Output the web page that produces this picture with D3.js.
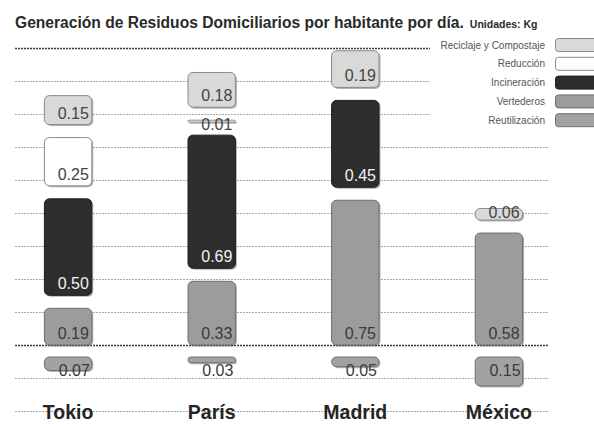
<!DOCTYPE html>
<html>
<head>
<meta charset="utf-8">
<script src="https://cdn.jsdelivr.net/npm/d3@7"></script>
<style>
  html, body { margin: 0; padding: 0; background: #fff; }
  svg { display: block; font-family: "Liberation Sans", Arial, sans-serif; }
</style>
</head>
<body>
<svg id="chart" width="594" height="424"></svg>
<script>
// ---- data ----
const categories = ["Tokio", "París", "Madrid", "México"];
const seriesNames = ["Reciclaje y Compostaje", "Reducción", "Incineración", "Vertederos", "Reutilización"];
const reciclaje     = [0.15, 0.18, 0.19, 0.06];
const reduccion     = [0.25, 0.01, 0.00, 0.00];
const incineracion  = [0.50, 0.69, 0.45, 0.00];
const vertederos    = [0.19, 0.33, 0.75, 0.58];
const reutilizacion = [0.07, 0.03, 0.05, 0.15];
const title = "Generación de Residuos Domiciliarios por habitante por día.";
const unitsLabel = "Unidades: Kg";

// ---- styles ----
const fills   = {"Reciclaje y Compostaje": "#d9d9d9", "Reducción": "#ffffff", "Incineración": "#2d2d2d", "Vertederos": "#9c9c9c", "Reutilización": "#a2a2a2"};
const strokes = {"Reciclaje y Compostaje": "#8a8a8a", "Reducción": "#8a8a8a", "Incineración": "#1e1e1e", "Vertederos": "#6e6e6e", "Reutilización": "#707070"};
const labelColors = {"Reciclaje y Compostaje": "#444", "Reducción": "#444", "Incineración": "#f2f2f2", "Vertederos": "#3a3a3a", "Reutilización": "#3a3a3a"};

const svg = d3.select("#chart");
const baseY = 345;
const gap = 13;
const pxPerKg = 193;

const x = d3.scaleBand().domain(categories).range([-3, 570]).paddingInner(0.67).paddingOuter(0.33);
// value -> pixel (positive values up, from baseline)
const y = d3.scaleLinear().domain([0, 1]).range([baseY, baseY - pxPerKg]);
const h = v => baseY - y(v);

// ---- gridlines ----
const gridRows = d3.range(12).map(i => 48 + i * 33.0);
const g = svg.append("g");
gridRows.forEach((gy, i) => {
  const dark = (i === 0 || i === 9);
  const x2 = i <= 2 ? 430 : 548;
  g.append("line")
    .attr("x1", 15).attr("x2", x2)
    .attr("y1", gy + 0.5).attr("y2", gy + 0.5)
    .attr("stroke", dark ? "#3a3a3a" : "#a8a8a8")
    .attr("stroke-width", dark ? 1.3 : 1)
    .attr("stroke-dasharray", "2,1");
});

// ---- title ----
const t = svg.append("text").attr("x", 15).attr("y", 28)
  .attr("fill", "#2a2a2a").attr("font-weight", "bold").attr("font-size", 15.6)
  .text(title);
t.append("tspan").attr("font-size", 10.5).attr("dx", 6).text(unitsLabel);

// ---- bars ----
const stackOrder = [
  ["Vertederos", vertederos],
  ["Incineración", incineracion],
  ["Reducción", reduccion],
  ["Reciclaje y Compostaje", reciclaje]
];

function drawBar(x0, top, w, height, name) {
  const rx = Math.min(5, height / 2);
  svg.append("rect").attr("x", x0 + 1.5).attr("y", top + 1.5).attr("width", w).attr("height", height)
    .attr("rx", rx).attr("fill", "#555").attr("opacity", 0.45);
  svg.append("rect").attr("x", x0).attr("y", top).attr("width", w).attr("height", height)
    .attr("rx", rx).attr("fill", fills[name]).attr("stroke", strokes[name]).attr("stroke-width", 1);
}
function drawLabel(xr, baseline, v, name) {
  svg.append("text").attr("x", xr).attr("y", baseline)
    .attr("text-anchor", "end").attr("font-size", 16)
    .attr("fill", labelColors[name]).text(v.toFixed(2));
}

categories.forEach((c, i) => {
  const x0 = x(c), w = x.bandwidth();
  let bottom = baseY;
  let first = true;
  stackOrder.forEach(([name, arr]) => {
    const v = arr[i];
    if (!v) return;
    if (!first) bottom -= gap;
    first = false;
    const height = h(v);
    const top = bottom - height;
    drawBar(x0, top, w, height, name);
    drawLabel(x0 + w - 3, Math.max(bottom - 6, top + 9.5), v, name);
    bottom = top;
  });
  // below baseline: Reutilización
  const v = reutilizacion[i];
  const top = baseY + 12;
  drawBar(x0, top, w, h(v), "Reutilización");
  drawLabel(x0 + w - 2, top + 19, v, "Reutilización");
});

// ---- category labels ----
svg.append("g").selectAll("text").data(categories).join("text")
  .attr("x", d => x(d) + x.bandwidth() / 2)
  .attr("y", 419)
  .attr("text-anchor", "middle")
  .attr("font-size", 19.5).attr("font-weight", "bold").attr("fill", "#242424")
  .text(d => d);

// ---- legend ----
const legend = svg.append("g");
seriesNames.forEach((name, i) => {
  const cy = 45 + i * 18.8;
  legend.append("text").attr("x", 545).attr("y", cy + 3.5)
    .attr("text-anchor", "end").attr("font-size", 10).attr("fill", "#555").text(name);
  legend.append("rect").attr("x", 555.5).attr("y", cy - 6.5).attr("width", 45).attr("height", 13)
    .attr("rx", 3).attr("fill", fills[name]).attr("stroke", strokes[name]).attr("stroke-width", 1);
});
</script>
</body>
</html>
